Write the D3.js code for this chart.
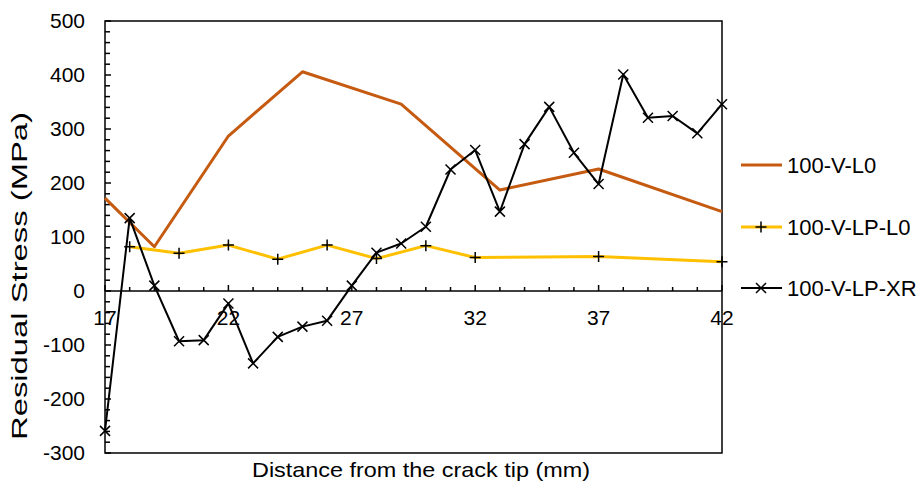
<!DOCTYPE html>
<html>
<head>
<meta charset="utf-8">
<script src="https://cdn.jsdelivr.net/npm/d3@7"></script>
<style>
  html, body { margin: 0; padding: 0; background: #fff; }
  svg { display: block; font-family: "Liberation Sans", Arial, sans-serif; }
</style>
</head>
<body>
<svg id="chart" width="921" height="481"></svg>
<script>
// Residual stress profiles along the distance from the crack tip
const seriesNames = ["100-V-L0", "100-V-LP-L0", "100-V-LP-XR"];
const seriesColors = ["#C55A11", "#FFC000", "#000000"];

const l0X = [17, 19, 22, 25, 29, 33, 37, 42];
const l0Y = [172, 82, 287, 406, 346, 187, 226, 147];

const lpL0X = [18, 20, 22, 24, 26, 28, 30, 32, 37, 42];
const lpL0Y = [82, 70, 85, 59, 85, 60, 84, 62, 64, 54];

const lpXrX = [17, 18, 19, 20, 21, 22, 23, 24, 25, 26, 27, 28, 29, 30,
               31, 32, 33, 34, 35, 36, 37, 38, 39, 40, 41, 42];
const lpXrY = [-259, 135, 10, -93, -91, -23, -134, -85, -66, -55, 10, 71, 88, 119,
               225, 261, 147, 272, 341, 256, 198, 401, 321, 324, 292, 346];

const xTickLabels = [17, 22, 27, 32, 37, 42];
const yTickLabels = [500, 400, 300, 200, 100, 0, -100, -200, -300];

const svg = d3.select("#chart");
const plotLeft = 105, plotRight = 722, plotTop = 21, plotBottom = 453;

const x = d3.scaleLinear().domain([17, 42]).range([plotLeft, plotRight]);
const y = d3.scaleLinear().domain([-300, 500]).range([plotBottom, plotTop]);

// plot frame
svg.append("rect")
  .attr("x", plotLeft).attr("y", plotTop)
  .attr("width", plotRight - plotLeft).attr("height", plotBottom - plotTop)
  .attr("fill", "none").attr("stroke", "#000").attr("stroke-width", 1.5);

// y axis: ticks point inward, labels sit outside
const yMinor = d3.range(-300, 501, 20);
svg.append("g").selectAll("line").data(yMinor).join("line")
  .attr("x1", plotLeft).attr("x2", d => plotLeft + (d % 100 === 0 ? 6 : 5))
  .attr("y1", d => y(d)).attr("y2", d => y(d))
  .attr("stroke", "#000").attr("stroke-width", 1.5);

svg.append("g").selectAll("text").data(yTickLabels).join("text")
  .attr("x", 85).attr("y", d => y(d))
  .attr("dy", "0.35em")
  .attr("text-anchor", "end")
  .attr("font-size", 21).attr("fill", "#000")
  .text(d => d);

// zero line carries the x ticks
svg.append("line")
  .attr("x1", plotLeft).attr("x2", plotRight)
  .attr("y1", y(0)).attr("y2", y(0))
  .attr("stroke", "#000").attr("stroke-width", 1.5);

const xMinor = d3.range(17, 43, 1);
svg.append("g").selectAll("line").data(xMinor).join("line")
  .attr("x1", d => x(d)).attr("x2", d => x(d))
  .attr("y1", y(0)).attr("y2", d => y(0) - ((d - 17) % 5 === 0 ? 6 : 4))
  .attr("stroke", "#000").attr("stroke-width", 1.5);

svg.append("g").selectAll("text").data(xTickLabels).join("text")
  .attr("x", d => x(d)).attr("y", y(0) + 34)
  .attr("text-anchor", "middle")
  .attr("font-size", 21).attr("fill", "#000")
  .text(d => d);

// axis titles
svg.append("text")
  .attr("x", 252).attr("y", 477)
  .attr("font-size", 21).attr("fill", "#000")
  .attr("textLength", 338).attr("lengthAdjust", "spacingAndGlyphs")
  .text("Distance from the crack tip (mm)");

svg.append("text")
  .attr("transform", "translate(27, 440) rotate(-90)")
  .attr("font-size", 22).attr("fill", "#000")
  .attr("textLength", 328).attr("lengthAdjust", "spacingAndGlyphs")
  .text("Residual Stress (MPa)");

const line = d3.line().x(d => x(d[0])).y(d => y(d[1]));

const plusPath = s => `M${-s},0H${s}M0,${-s}V${s}`;
const crossPath = s => `M${-s},${-s}L${s},${s}M${-s},${s}L${s},${-s}`;

// 100-V-L0
svg.append("path")
  .datum(d3.zip(l0X, l0Y))
  .attr("d", line).attr("fill", "none")
  .attr("stroke", seriesColors[0]).attr("stroke-width", 3)
  .attr("stroke-linejoin", "round");

// 100-V-LP-L0
svg.append("path")
  .datum(d3.zip(lpL0X, lpL0Y))
  .attr("d", line).attr("fill", "none")
  .attr("stroke", seriesColors[1]).attr("stroke-width", 3)
  .attr("stroke-linejoin", "round");
svg.append("g").selectAll("path").data(d3.zip(lpL0X, lpL0Y)).join("path")
  .attr("transform", d => `translate(${x(d[0])},${y(d[1])})`)
  .attr("d", plusPath(5.5))
  .attr("stroke", "#000").attr("stroke-width", 1.5).attr("fill", "none");

// 100-V-LP-XR
svg.append("path")
  .datum(d3.zip(lpXrX, lpXrY))
  .attr("d", line).attr("fill", "none")
  .attr("stroke", seriesColors[2]).attr("stroke-width", 2)
  .attr("stroke-linejoin", "round");
svg.append("g").selectAll("path").data(d3.zip(lpXrX, lpXrY)).join("path")
  .attr("transform", d => `translate(${x(d[0])},${y(d[1])})`)
  .attr("d", crossPath(5))
  .attr("stroke", "#000").attr("stroke-width", 1.5).attr("fill", "none");

// legend
const legendY = [165, 227, 288];
const lg = svg.append("g");
seriesNames.forEach((name, i) => {
  const ly = legendY[i];
  lg.append("line")
    .attr("x1", 741).attr("x2", 782).attr("y1", ly).attr("y2", ly)
    .attr("stroke", seriesColors[i]).attr("stroke-width", i === 2 ? 2 : 3);
  if (i === 1) {
    lg.append("path").attr("transform", `translate(761,${ly})`)
      .attr("d", plusPath(5.5)).attr("stroke", "#000").attr("stroke-width", 1.5);
  } else if (i === 2) {
    lg.append("path").attr("transform", `translate(761,${ly})`)
      .attr("d", crossPath(5)).attr("stroke", "#000").attr("stroke-width", 1.5);
  }
  lg.append("text")
    .attr("x", 787).attr("y", ly).attr("dy", "0.37em")
    .attr("font-size", 22).attr("fill", "#000")
    .text(name);
});
</script>
</body>
</html>
